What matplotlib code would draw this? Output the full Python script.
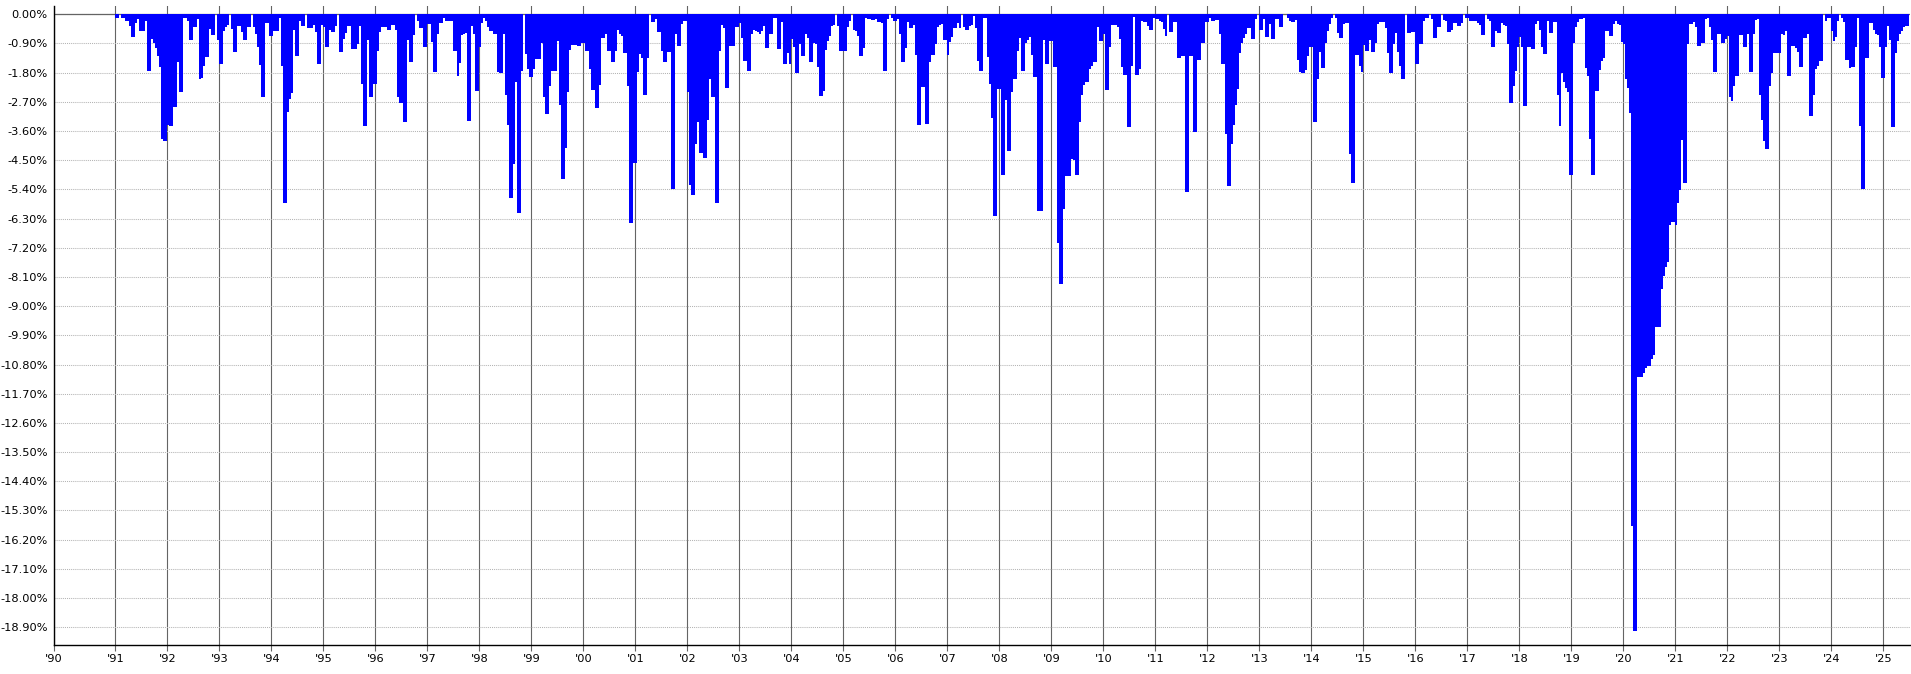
import numpy as np
import matplotlib
matplotlib.use('Agg')
import matplotlib.pyplot as plt

plt.rcParams['font.family'] = ['DejaVu Sans']

# drawdown in %, two-week steps (26 per year)
dd_1991 = [-0.1,-0.1,0,-0.1,-0.1,-0.2,-0.2,-0.37,-0.69,-0.69,-0.27,-0.16,-0.5,-0.5,-0.5,-0.2,-1.74,-1.74,-0.75,-0.9,-1.05,-1.3,-1.63,-3.85,-3.91,-3.91]
dd_1992 = [-3.4,-3.43,-3.43,-2.87,-2.87,-1.46,-2.4,-2.4,-0.12,-0.1,-0.2,-0.78,-0.78,-0.4,-0.4,-0.16,-2.0,-1.96,-1.58,-1.32,-1.32,-0.45,-0.65,-0.65,0,-0.8]
dd_1993 = [-1.53,-1.53,-0.5,-0.4,-0.32,0,-0.45,-1.17,-1.17,-0.37,-0.37,-0.55,-0.8,-0.8,-0.4,-0.4,0,-0.38,-0.6,-1.0,-1.56,-2.56,-2.56,-0.28,-0.28,-0.66]
dd_1994 = [-0.66,-0.5,-0.5,-0.5,-0.1,-1.58,-5.81,-5.81,-3.0,-2.6,-2.44,-0.47,-1.28,-1.28,-0.22,-0.37,-0.37,0,-0.43,-0.43,-0.43,-0.32,-0.55,-1.52,-1.52,-0.32]
dd_1995 = [-0.4,-1.02,-1.02,-0.47,-0.55,-0.55,-0.37,0,-1.17,-1.17,-0.76,-0.59,-0.35,-0.35,-1.08,-1.08,-1.08,-0.92,-0.35,-2.16,-3.43,-3.43,-0.79,-2.56,-2.56,-2.16]
dd_1996 = [-2.16,-1.12,-0.55,-0.4,-0.4,-0.4,-0.48,-0.48,-0.33,-0.33,-0.48,-2.56,-2.72,-2.72,-3.33,-3.33,-0.8,-1.46,-1.46,-0.65,0,-0.2,-0.43,-0.43,-1.02,-1.02]
dd_1997 = [-0.3,-0.3,-0.86,-1.79,-1.79,-0.6,-0.27,-0.27,-0.12,-0.2,-0.2,-0.2,-0.2,-1.14,-1.14,-1.9,-1.5,-0.65,-0.6,-0.58,-3.3,-3.3,-0.35,-0.6,-2.38,-2.38]
dd_1998 = [-1.0,-0.28,-0.1,-0.2,-0.38,-0.53,-0.53,-0.6,-0.62,-1.77,-1.8,-1.8,-0.62,-2.5,-3.4,-5.66,-5.66,-4.63,-2.1,-6.12,-6.12,-1.74,0,-1.22,-1.7,-1.93]
dd_1999 = [-1.93,-1.7,-1.38,-1.38,-1.38,-0.87,-2.55,-3.06,-3.06,-2.2,-1.74,-1.74,-1.74,-0.81,-2.79,-5.07,-5.07,-4.11,-2.41,-1.1,-0.94,-0.94,-0.94,-0.99,-0.99,-0.87]
dd_2000 = [-0.87,-1.14,-1.14,-1.7,-2.34,-2.34,-2.9,-2.9,-2.18,-0.74,-0.74,-0.6,-1.12,-1.12,-1.46,-1.46,-1.12,-0.47,-0.6,-0.68,-1.2,-1.2,-2.2,-6.43,-6.43,-4.6]
dd_2001 = [-4.6,-1.78,-1.22,-1.36,-2.5,-2.5,-1.36,0,-0.25,-0.25,-0.15,-0.55,-0.55,-1.14,-1.46,-1.46,-1.15,-1.17,-5.38,-5.38,-0.6,-0.99,-0.99,-0.3,-0.2,-0.2]
dd_2002 = [-2.4,-5.25,-5.56,-5.56,-3.99,-3.32,-4.27,-4.27,-4.42,-4.42,-3.27,-1.98,-2.54,-2.54,-5.81,-5.81,-1.12,-0.32,-0.43,-2.26,-2.26,-0.99,-0.99,-0.99,-0.38,-0.38]
dd_2003 = [-0.28,-0.74,-1.43,-1.43,-1.76,-1.76,-0.6,-0.47,-0.5,-0.55,-0.62,-0.5,-0.37,-1.05,-1.05,-0.6,-0.6,-0.12,-0.12,-1.08,-1.08,-0.25,-1.52,-1.52,-1.2,-1.52]
dd_2004 = [-0.76,-1.0,-1.82,-1.82,-0.92,-1.28,-1.28,-0.6,-0.74,-1.46,-1.46,-0.9,-0.92,-1.64,-2.52,-2.52,-2.36,-1.1,-0.82,-0.66,-0.35,-0.32,0,-0.35,-1.14,-1.14]
dd_2005 = [-1.14,-1.14,-0.4,-0.2,0,-0.48,-0.5,-0.66,-1.28,-1.28,-1.05,-0.12,-0.15,-0.15,-0.17,-0.17,-0.14,-0.25,-0.25,-0.28,-1.74,-1.74,-0.14,0,-0.1,-0.22]
dd_2006 = [-0.22,-0.15,-0.6,-1.46,-1.46,-1.05,-0.25,-0.43,-0.43,-0.32,-1.26,-3.41,-3.41,-2.24,-2.24,-3.37,-3.37,-1.46,-1.25,-1.25,-0.92,-0.4,-0.34,-0.3,-0.78,-0.78]
dd_2007 = [-1.25,-0.85,-0.71,-0.42,-0.42,-0.27,-0.42,0,-0.38,-0.47,-0.47,-0.37,-0.32,-0.05,-0.43,-1.43,-1.76,-1.76,-0.11,-0.11,-1.31,-2.15,-3.19,-6.23,-6.23,-2.29]
dd_2008 = [-2.29,-4.94,-4.94,-2.65,-4.22,-4.22,-2.41,-1.98,-1.98,-1.14,-0.74,-1.74,-1.74,-0.9,-0.8,-0.71,-1.25,-1.93,-1.93,-6.07,-6.07,-6.07,-0.8,-1.54,-1.54,-0.82]
dd_2009 = [-0.82,-1.64,-1.64,-7.06,-8.33,-8.33,-6.0,-4.99,-4.99,-4.99,-4.45,-4.5,-4.94,-4.94,-3.32,-2.5,-2.19,-2.1,-2.1,-1.69,-1.6,-1.48,-1.48,-0.4,-0.81,-0.81]
dd_2010 = [-0.6,-2.33,-2.33,-1.0,-0.32,-0.32,-0.32,-0.4,-0.76,-1.64,-1.87,-1.87,-3.47,-3.47,-1.6,-0.07,-1.87,-1.87,-1.7,-0.2,-0.25,-0.25,-0.37,-0.47,-0.47,-0.1]
dd_2011 = [-0.15,-0.15,-0.2,-0.25,-0.45,-0.66,0,-0.55,-0.55,-0.25,-0.25,-1.36,-1.36,-1.3,-1.3,-5.47,-5.47,-1.3,-1.3,-3.62,-3.62,-1.4,-1.4,-0.87,-0.87,-0.25]
dd_2012 = [-0.25,-0.1,-0.2,-0.2,-0.17,-0.17,-0.6,-1.54,-1.54,-3.68,-5.28,-5.28,-4.0,-3.4,-2.8,-2.3,-1.2,-0.9,-0.72,-0.6,-0.42,-0.43,-0.77,-0.77,-0.15,0]
dd_2013 = [-0.47,-0.47,-0.14,-0.69,-0.69,-0.3,-0.75,-0.75,-0.14,-0.14,-0.4,-0.4,0,0,-0.12,-0.2,-0.25,-0.25,-0.17,-1.4,-1.79,-1.82,-1.82,-1.72,-1.3,-1.02]
dd_2014 = [-1.02,-3.31,-3.31,-2.0,-1.15,-1.67,-1.67,-0.9,-0.5,-0.3,-0.1,0,-0.1,-0.59,-0.74,-0.74,-0.3,-0.28,-0.28,-4.3,-5.2,-5.2,-1.25,-1.25,-1.6,-1.79]
dd_2015 = [-0.94,-1.14,-1.14,-0.8,-1.17,-1.17,-0.9,-0.3,-0.23,-0.23,-0.23,-0.43,-1.2,-1.82,-1.82,-0.92,-0.58,-1.17,-1.6,-1.98,-1.98,0,-0.59,-0.59,-0.54,-0.54]
dd_2016 = [-1.52,-1.52,-0.92,-0.92,-0.22,-0.1,-0.1,0,-0.14,-0.74,-0.74,-0.4,-0.4,0,-0.17,-0.22,-0.55,-0.55,-0.47,-0.28,-0.28,-0.37,-0.37,-0.27,0,-0.1]
dd_2017 = [-0.1,-0.22,-0.22,-0.22,-0.22,-0.28,-0.32,-0.63,-0.63,0,-0.15,-0.2,-1.0,-1.0,-0.5,-0.58,-0.58,-0.27,-0.32,-0.37,-0.92,-2.72,-2.72,-2.2,-1.75,-1.0]
dd_2018 = [-0.7,-1.0,-2.82,-2.82,-1.02,-1.02,-1.07,-1.07,-0.3,-0.22,-0.48,-1.0,-1.22,-1.22,-0.2,-0.59,-0.59,-0.25,-0.25,-2.5,-3.44,-1.8,-2.1,-2.26,-2.4,-4.95]
dd_2019 = [-4.95,-0.9,-0.4,-0.25,-0.15,-0.14,-0.1,-1.67,-1.9,-3.83,-4.95,-4.95,-2.38,-2.38,-1.72,-1.45,-1.35,-0.5,-0.5,-0.68,-0.68,-0.3,-0.22,-0.3,-0.32,-0.85]
dd_2020 = [-0.92,-2.0,-2.26,-3.03,-15.77,-19.03,-19.03,-11.17,-11.17,-11.17,-11.06,-10.9,-10.83,-10.83,-10.63,-10.5,-9.63,-9.63,-9.63,-8.46,-8.07,-7.8,-7.65,-6.5,-6.39,-6.39]
dd_2021 = [-6.49,-5.81,-5.42,-3.87,-5.19,-5.19,-0.92,-0.3,-0.3,-0.23,-0.4,-0.97,-0.97,-0.9,-0.9,-0.16,-0.1,-0.4,-0.8,-1.77,-1.77,-0.62,-0.62,-0.9,-0.9,-0.76]
dd_2022 = [-0.66,-2.56,-2.68,-2.2,-1.9,-1.9,-0.64,-0.64,-1.02,-1.02,-0.6,-1.79,-1.79,-0.62,-0.17,-0.14,-2.5,-3.27,-3.9,-4.16,-4.16,-2.2,-1.8,-1.2,-1.2,-1.2]
dd_2023 = [-1.2,-0.6,-0.64,-0.5,-1.9,-1.9,-0.99,-0.99,-1.05,-1.15,-1.61,-1.61,-0.74,-0.74,-0.6,-3.15,-3.15,-2.5,-1.7,-1.6,-1.43,-1.43,0,-0.2,-0.1,-0.1]
dd_2024 = [-0.5,-0.81,-0.7,-0.22,0,-0.1,-0.25,-1.41,-1.41,-1.67,-1.62,-1.62,-1.0,-0.1,-3.44,-5.38,-5.38,-1.36,-1.36,-0.26,-0.26,-0.48,-0.62,-0.65,-1.0,-1.95]
dd_2025 = [-1.95,-1.0,-0.35,-0.8,-3.46,-3.46,-1.2,-0.82,-0.6,-0.5,-0.4,-0.35,-0.35]

yearly = [dd_1991, dd_1992, dd_1993, dd_1994, dd_1995, dd_1996, dd_1997, dd_1998,
          dd_1999, dd_2000, dd_2001, dd_2002, dd_2003, dd_2004, dd_2005, dd_2006,
          dd_2007, dd_2008, dd_2009, dd_2010, dd_2011, dd_2012, dd_2013, dd_2014,
          dd_2015, dd_2016, dd_2017, dd_2018, dd_2019, dd_2020, dd_2021, dd_2022,
          dd_2023, dd_2024, dd_2025]
years = list(range(1991, 2026))
steps_per_year = 26

x = []
y = []
for yr, vals in zip(years, yearly):
    x.extend(yr + np.arange(len(vals)) / steps_per_year)
    y.extend(vals)

x_start, x_end = 1989.821, 2025.513
ytick_vals = np.arange(0, -19.0, -0.9)

fig = plt.figure(figsize=(19.11, 6.74), dpi=100)
ax = fig.add_axes([54/1911, 28.7/674, 1856/1911, 639.3/674])

ax.bar(x, y, width=1/steps_per_year, align='edge', color='#0000ff',
       linewidth=0, antialiased=False, zorder=3)
ax.axhline(0, color='#646464', lw=0.9, zorder=2)

ax.set_xlim(x_start, x_end)
ax.set_ylim(-19.457, 0.256)

ax.set_xticks([x_start] + years)
ax.set_xticklabels(["'90"] + ["'%02d" % (yr % 100) for yr in years])
ax.set_yticks(ytick_vals)
ax.set_yticklabels(['%.2f%%' % v for v in ytick_vals])

ax.set_axisbelow(True)
ax.grid(axis='x', color='#646464', linewidth=0.8, linestyle='-')
ax.grid(axis='y', color='#b4b4b4', linewidth=0.75, linestyle=(0, (1, 1)))

for side in ['top', 'right']:
    ax.spines[side].set_visible(False)
for side in ['left', 'bottom']:
    ax.spines[side].set_color('black')
    ax.spines[side].set_linewidth(1.0)

ax.tick_params(axis='x', length=4.5, width=0.8, color='#646464', labelsize=8.2, pad=2)
ax.tick_params(axis='y', length=0, labelsize=8.2, pad=4.5)

fig.savefig('out.png', dpi=100)
